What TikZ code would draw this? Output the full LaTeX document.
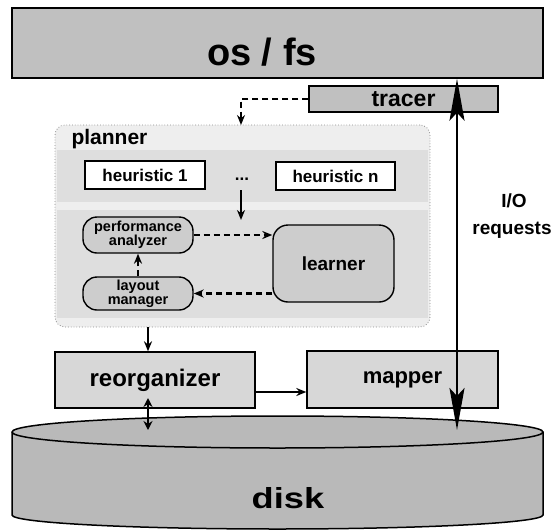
\documentclass[tikz,border=0pt]{standalone}
\usepackage{fontspec}
\setmainfont{Liberation Sans}
\newfontfamily\widefont[FakeStretch=1.25]{Liberation Sans}
\usetikzlibrary{arrows.meta,positioning,calc}
\definecolor{osgray}{RGB}{192,192,192}
\definecolor{plangray}{RGB}{238,238,238}
\definecolor{bandgray}{RGB}{222,222,222}
\definecolor{pillgray}{RGB}{205,205,205}
\definecolor{lowgray}{RGB}{215,215,215}
\definecolor{diskgray}{RGB}{185,185,185}

\begin{document}
\begin{tikzpicture}[x=1pt,y=-1pt,
  box/.style={draw=black,line width=1.4pt,fill=lowgray,inner sep=0pt,
              text=black,align=center},
  pill/.style={box,fill=pillgray,rounded corners=14pt},
  hbox/.style={box,fill=white,minimum width=120pt,minimum height=28pt,
               font=\fontsize{17}{19}\selectfont\bfseries},
  arr/.style={-{Stealth[length=10pt,width=8pt]},line width=2.2pt},
  dasharr/.style={arr,line width=2.4pt,dash pattern=on 6pt off 4pt},
  dblarr/.style={{Stealth[length=9pt,width=9pt]}-{Stealth[length=9pt,width=9pt]},
                 line width=2.2pt},
  ioarr/.style={{Stealth[length=42pt,width=15pt,inset=8pt]}-{Stealth[length=42pt,width=15pt,inset=8pt]},
                line width=2.2pt}]
\useasboundingbox (0,0) rectangle (555,531);
% os / fs and tracer
\node[box,fill=osgray,minimum width=531pt,minimum height=70pt](osfs) at (277.5,43) {};
\node[font=\fontsize{38}{40}\selectfont\bfseries,anchor=base](osfslbl) at (262,65) {os / fs};
\node[box,fill=osgray,minimum width=189pt,minimum height=26pt,
      font=\fontsize{23}{25}\selectfont\bfseries](tracer) at (403.5,99) {tracer};
% planner
\node[draw=black!45,dotted,line width=0.8pt,fill=plangray,rounded corners=10pt,
      minimum width=375pt,minimum height=202pt](planner) at (242.5,226) {};
\fill[bandgray] (57,150) rectangle (428,202);
\fill[bandgray] (57,210) rectangle (428,318);
\node[anchor=west,font=\fontsize{21}{23}\selectfont\bfseries](plannerlbl) at (68,139) {planner};
\node[hbox](heur1) at (145,175) {heuristic 1};
\node[font=\fontsize{17}{19}\selectfont\bfseries](dots) at (242,179) {...};
\node[hbox,minimum width=119pt](heurn) at (335.5,176) {heuristic n};
\node[pill,minimum width=110pt,minimum height=36pt,
      font=\fontsize{14.5}{14}\selectfont\bfseries](perf) at (138,235) {performance\\analyzer};
\node[pill,minimum width=110pt,minimum height=33pt,
      font=\fontsize{14.5}{14}\selectfont\bfseries](layout) at (138,293.5) {layout\\manager};
\node[pill,rounded corners=15pt,minimum width=121pt,minimum height=77pt,
      font=\fontsize{19}{21}\selectfont\bfseries](learner) at (333.5,263.5) {learner};
% reorganizer and mapper
\node[box,minimum width=200pt,minimum height=56pt,
      font=\fontsize{24}{26}\selectfont\bfseries](reorg) at (155,380) {reorganizer};
\node[box,minimum width=191pt,minimum height=57pt,
      font=\fontsize{22}{24}\selectfont\bfseries](mapper) at (402.5,379.5) {mapper};
% disk
\filldraw[fill=diskgray,line width=1.5pt] (12,432) -- (12,515)
  arc[start angle=180,end angle=0,x radius=265.5,y radius=14] -- (543,432)
  arc[start angle=0,end angle=-180,x radius=265.5,y radius=16] -- cycle;
\draw[line width=1.5pt] (12,432) arc[start angle=180,end angle=0,x radius=265.5,y radius=16];
\node[font={\widefont\bfseries\fontsize{29}{31}\selectfont},anchor=base](disklbl) at (288,508) {disk};
% I/O label
\node[font=\fontsize{19}{21}\selectfont\bfseries,anchor=base](iolbl) at (514,207) {I/O};
\node[font=\fontsize{19}{21}\selectfont\bfseries,anchor=base](reqlbl) at (512,234) {requests};
% connectors
\coordinate (tin) at (241,125);
\draw[dasharr] (tracer.west) -| (tin);
\coordinate (hsel) at (241,190);
\coordinate (hout) at (241,220);
\draw[arr] (hsel) -- (hout);
\draw[dasharr] (layout.north) -- (perf.south);
\draw[dasharr] (perf.east) -- (perf.east -| learner.west);
\draw[dasharr] (layout.east -| learner.west) -- (layout.east);
\coordinate (pout) at (148,0);
\draw[arr] (planner.south -| pout) -- (reorg.north -| pout);
\coordinate (rm) at (0,392);
\draw[arr] (reorg.east |- rm) -- (mapper.west |- rm);
\coordinate (rtop) at (148,398);
\coordinate (dtop1) at (148,430);
\draw[dblarr] (rtop) -- (dtop1);
\coordinate (dtop2) at (457,430);
\draw[ioarr] (osfs.south -| dtop2) -- (dtop2);
\end{tikzpicture}
\end{document}
